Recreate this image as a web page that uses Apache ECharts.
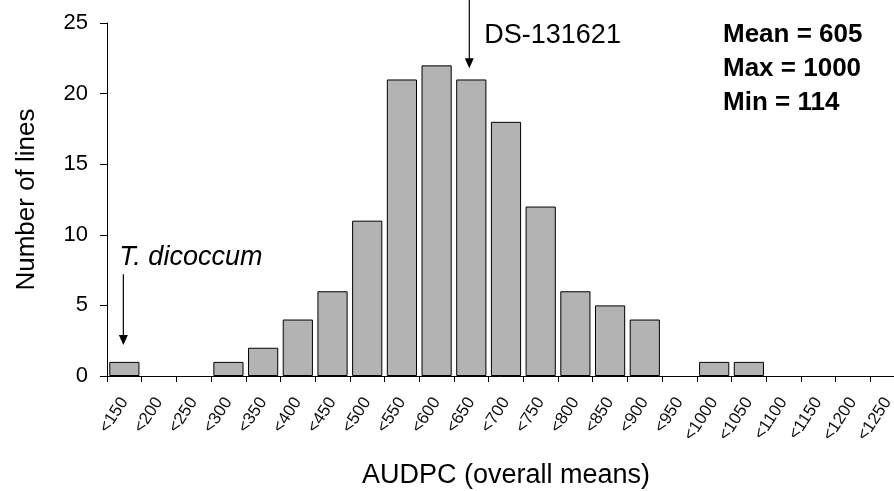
<!DOCTYPE html>
<html>
<head>
<meta charset="utf-8">
<script src="https://cdn.jsdelivr.net/npm/echarts@6/dist/echarts.min.js"></script>
<style>
  html, body { margin: 0; padding: 0; background: #fff; }
  #chart { width: 894px; height: 491px; }
</style>
</head>
<body>
<div id="chart"></div>
<script>
// AUDPC classes (upper bounds of each bin)
const categories = ['<150', '<200', '<250', '<300', '<350', '<400', '<450', '<500', '<550', '<600',
  '<650', '<700', '<750', '<800', '<850', '<900', '<950', '<1000', '<1050', '<1100',
  '<1150', '<1200', '<1250'];
// number of lines per class
const counts = [1, 0, 0, 1, 2, 4, 6, 11, 21, 22, 21, 18, 12, 6, 5, 4, 0, 1, 1, 0, 0, 0, 0];
const yTicks = [0, 5, 10, 15, 20, 25];
const statsLines = ['Mean = 605', 'Max = 1000', 'Min = 114'];

const FONT = '"Liberation Sans", Arial, sans-serif';
const chart = echarts.init(document.getElementById('chart'), null, { renderer: 'canvas' });

chart.setOption({
  animation: false,
  backgroundColor: '#ffffff',
  grid: {
    left: 107, top: 23, width: 798, height: 353,
    containLabel: false, outerBoundsMode: 'none'
  },
  xAxis: {
    type: 'category',
    data: categories,
    boundaryGap: true,
    axisLine: { lineStyle: { color: '#000', width: 1 } },
    axisTick: { show: true, length: 6, lineStyle: { color: '#000' } },
    axisLabel: { rotate: 57, fontSize: 17, color: '#111', fontFamily: FONT, margin: 23, interval: 0 },
    name: 'AUDPC (overall means)',
    nameLocation: 'middle',
    nameGap: 86,
    nameTextStyle: { fontSize: 27, color: '#000', fontFamily: FONT }
  },
  yAxis: {
    type: 'value',
    min: yTicks[0], max: yTicks[yTicks.length - 1], interval: 5,
    axisLine: { show: true, lineStyle: { color: '#000', width: 1 } },
    axisTick: { show: true, length: 7, lineStyle: { color: '#000' } },
    splitLine: { show: false },
    axisLabel: { fontSize: 22, color: '#000', fontFamily: FONT, margin: 19 },
    name: 'Number of lines',
    nameLocation: 'middle',
    nameRotate: 90,
    nameGap: 67,
    nameTextStyle: { fontSize: 26, color: '#000', fontFamily: FONT }
  },
  series: [{
    type: 'bar',
    // empty classes draw no bar at all
    data: counts.map(v => (v === 0 ? '-' : v)),
    barCategoryGap: '13%',
    itemStyle: { color: '#b3b3b3', borderColor: '#000', borderWidth: 1 }
  }]
});

// annotations anchored to data coordinates
function px(cat, val) { return chart.convertToPixel({ gridIndex: 0 }, [cat, val]); }
function arrow(from, to) {
  const head = 10, half = 4.5;
  return [
    { type: 'line', shape: { x1: from[0], y1: from[1], x2: to[0], y2: to[1] - head + 1 },
      style: { stroke: '#000', lineWidth: 1.2 }, z: 10 },
    { type: 'polygon', shape: { points: [[to[0] - half, to[1] - head], [to[0] + half, to[1] - head], [to[0], to[1]]] },
      style: { fill: '#000' }, z: 10 }
  ];
}

const tTop = px(0, 7.2), tTip = px(0, 2.2);
const dTop = px(10, 26.7), dTip = px(10, 21.8);
const graphics = [].concat(
  arrow([tTop[0] - 1, tTop[1]], [tTip[0] - 1, tTip[1]]),
  arrow([dTop[0] - 2, dTop[1]], [dTip[0] - 2, dTip[1]]),
  [
    { type: 'text', x: tTop[0] - 5, y: tTop[1] - 17,
      style: { text: 'T. dicoccum', font: 'italic 27px ' + FONT, fill: '#000', verticalAlign: 'middle' }, z: 10 },
    { type: 'text', x: dTop[0] + 13, y: 36,
      style: { text: 'DS-131621', font: '27px ' + FONT, fill: '#000', verticalAlign: 'middle' }, z: 10 },
    { type: 'text', x: 723, y: 18,
      style: { text: statsLines.join('\n'), font: 'bold 26px ' + FONT, lineHeight: 34, fill: '#000' }, z: 10 }
  ]
);
chart.setOption({ graphic: graphics });
</script>
</body>
</html>
